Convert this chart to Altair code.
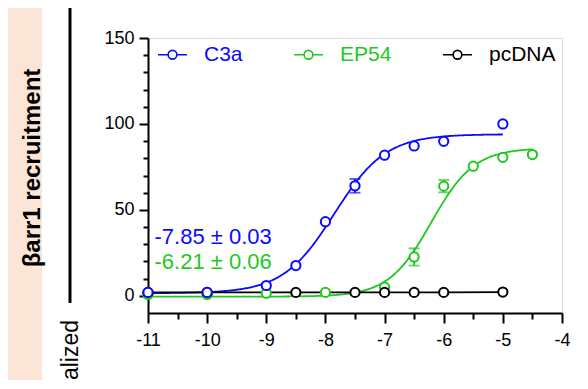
import altair as alt
import pandas as pd

# ---------------- data ----------------
series_names = ["C3a", "EP54", "pcDNA"]
BLUE = "#0a0aff"
GREEN = "#1ec81e"
BLACK = "#000000"
series_colors = [BLUE, GREEN, BLACK]

x_c3a = [-11, -10, -9, -8.5, -8, -7.5, -7, -6.5, -6, -5]
y_c3a = [2.0, 2.0, 6.0, 17.6, 43.1, 64.0, 81.8, 87.2, 89.9, 100.0]
err_c3a = [0, 0, 0, 0, 0, 4.0, 0, 0, 0, 0]

x_ep54 = [-11, -10, -9, -8, -7, -6.5, -6, -5.5, -5, -4.5]
y_ep54 = [0.8, 0.8, 1.5, 2.0, 5.0, 22.6, 63.8, 75.4, 80.6, 82.2]
err_ep54 = [0, 0, 0, 0, 0, 5.0, 3.6, 0, 0, 0]

x_pc = [-11, -10, -8.5, -7.5, -7, -6.5, -6, -5]
y_pc = [2.0, 2.0, 2.0, 2.0, 2.0, 2.0, 2.0, 2.2]

# fitted 4PL parameters (bottom, top, logEC50, hill, x range)
fit_c3a = dict(bottom=1.5, top=94.0, logec=-7.85, hill=1.0, x0=-11, x1=-5)
fit_ep54 = dict(bottom=-0.5, top=86.0, logec=-6.21, hill=1.2, x0=-11, x1=-4.5)

annot_texts = ["-7.85 \u00b1 0.03", "-6.21 \u00b1 0.06"]

x_ticks = [-11 + 0.5 * i for i in range(15)]
y_ticks = [10 * i for i in range(16)]

FONT = "Liberation Sans"

# ---------------- tables ----------------
pts = pd.concat([
    pd.DataFrame({"series": "EP54", "x": x_ep54, "y": y_ep54}),
    pd.DataFrame({"series": "pcDNA", "x": x_pc, "y": y_pc}),
    pd.DataFrame({"series": "C3a", "x": x_c3a, "y": y_c3a}),
], ignore_index=True)


def err_df(xs, ys, es):
    rows = [(x, y - e, y + e) for x, y, e in zip(xs, ys, es) if e > 0]
    return pd.DataFrame(rows, columns=["x", "lo", "hi"])


xscale = alt.Scale(domain=[-11, -4], nice=False, zero=False)
yscale = alt.Scale(domain=[-10, 150], nice=False, zero=False)

xaxis = alt.Axis(
    values=x_ticks,
    labelExpr="datum.value % 1 === 0 ? '' + datum.value : ''",
    tickSize={"condition": {"test": "datum.value % 1 === 0", "value": 10}, "value": 6},
    title=None, grid=False, domain=True, domainColor="black", domainWidth=2,
    tickColor="black", tickWidth=2, labelFont=FONT, labelFontSize=18,
    labelColor="black", labelPadding=8, labelFlush=False, labelOverlap=False,
)
yaxis = alt.Axis(
    values=y_ticks,
    labelExpr="datum.value % 50 === 0 ? '' + datum.value : ''",
    tickSize={"condition": {"test": "datum.value % 50 === 0", "value": 9}, "value": 5},
    title=None, grid=False, domain=True, domainColor="black", domainWidth=2,
    tickColor="black", tickWidth=2, labelFont=FONT, labelFontSize=18,
    labelColor="black", labelPadding=5, labelFlush=False, labelOverlap=False,
)


def X(field="x"):
    return alt.X(f"{field}:Q", scale=xscale, axis=xaxis, title=None)


def Y(field="y"):
    return alt.Y(f"{field}:Q", scale=yscale, axis=yaxis, title=None)


def curve(p, color):
    expr = (f"{p['bottom']} + ({p['top']} - ({p['bottom']})) / "
            f"(1 + pow(10, ({p['logec']} - datum.x) * {p['hill']}))")
    return alt.Chart(alt.sequence(p["x0"], p["x1"] + 0.001, 0.02, as_="x")).transform_calculate(
        y=expr
    ).mark_line(strokeWidth=1.8, color=color).encode(x=X(), y=Y())


def errbars(df, color):
    base = alt.Chart(df)
    rule = base.mark_rule(color=color, strokeWidth=1.8).encode(x=X(), y=Y("lo"), y2="hi:Q")
    lo = base.mark_tick(color=color, size=11, thickness=1.8, orient="horizontal").encode(x=X(), y=Y("lo"))
    hi = base.mark_tick(color=color, size=11, thickness=1.8, orient="horizontal").encode(x=X(), y=Y("hi"))
    return rule + lo + hi


pc_line = alt.Chart(pd.DataFrame({"x": x_pc, "y": y_pc})).mark_line(
    color=BLACK, strokeWidth=1.8).encode(x=X(), y=Y())

legend_symbol = "M-0.3,0A0.3,0.3,0,1,1,0.3,0A0.3,0.3,0,1,1,-0.3,0ZM-1,0L-0.3,0M0.3,0L1,0"

points = alt.Chart(pts).mark_point(
    shape="circle", size=85, strokeWidth=2, filled=False, fill="white", fillOpacity=1, opacity=1
).encode(
    x=X(), y=Y(),
    stroke=alt.Stroke("series:N", scale=alt.Scale(domain=series_names, range=series_colors),
                      legend=alt.Legend(
                          title=None, orient="none", direction="horizontal",
                          legendX=9, legendY=1, padding=0,
                          symbolType=legend_symbol, symbolSize=841, symbolStrokeWidth=1.6,
                          symbolFillColor="white",
                          labelFont=FONT, labelFontSize=21, labelOffset=16,
                          columnPadding=47, labelLimit=200,
                          labelColor=alt.ExprRef(
                              f"datum.label === 'C3a' ? '{BLUE}' : datum.label === 'EP54' ? '{GREEN}' : 'black'"),
                      )),
)

ann_df = pd.DataFrame({"t": annot_texts, "x": [-10.89, -10.89], "y": [30.0, 15.5]})
ann1 = alt.Chart(ann_df.iloc[[0]]).mark_text(
    align="left", baseline="alphabetic", font=FONT, fontSize=22, color=BLUE
).encode(x=X(), y=Y(), text="t:N")
ann2 = alt.Chart(ann_df.iloc[[1]]).mark_text(
    align="left", baseline="alphabetic", font=FONT, fontSize=22, color=GREEN
).encode(x=X(), y=Y(), text="t:N")

# left-side decorations (cropped neighbouring panel)
deco = alt.Chart(pd.DataFrame({"t": ["\u03b2arr1 recruitment"], "n": ["alized"]}))
band = deco.mark_rect(color="#fbe5d6").encode(
    x=alt.value(-140), x2=alt.value(-106), y=alt.value(-30), y2=alt.value(342))
band_text = deco.mark_text(angle=270, align="center", baseline="middle", font=FONT,
                           fontSize=24, fontWeight="bold", color="black").encode(
    x=alt.value(-115), y=alt.value(130), text="t:N")
arrow = deco.mark_rule(color="black", strokeWidth=3).encode(
    x=alt.value(-78), y=alt.value(-30), y2=alt.value(265))
norm_text = deco.mark_text(angle=270, align="right", baseline="middle", font=FONT,
                           fontSize=23, color="black").encode(
    x=alt.value(-77), y=alt.value(282), text="n:N")

chart = alt.layer(
    curve(fit_ep54, GREEN), curve(fit_c3a, BLUE), pc_line,
    errbars(err_df(x_ep54, y_ep54, err_ep54), GREEN),
    errbars(err_df(x_c3a, y_c3a, err_c3a), BLUE),
    points, ann1, ann2,
    band, band_text, arrow, norm_text,
).properties(
    width=414, height=275,
    padding={"left": 140, "top": 30, "right": 18, "bottom": 68},
    autosize=alt.AutoSizeParams(type="none"),
).configure_view(strokeWidth=0, stroke="transparent").configure(background="white")

chart.save("out.html", embed_options={"renderer": "svg", "actions": False})
